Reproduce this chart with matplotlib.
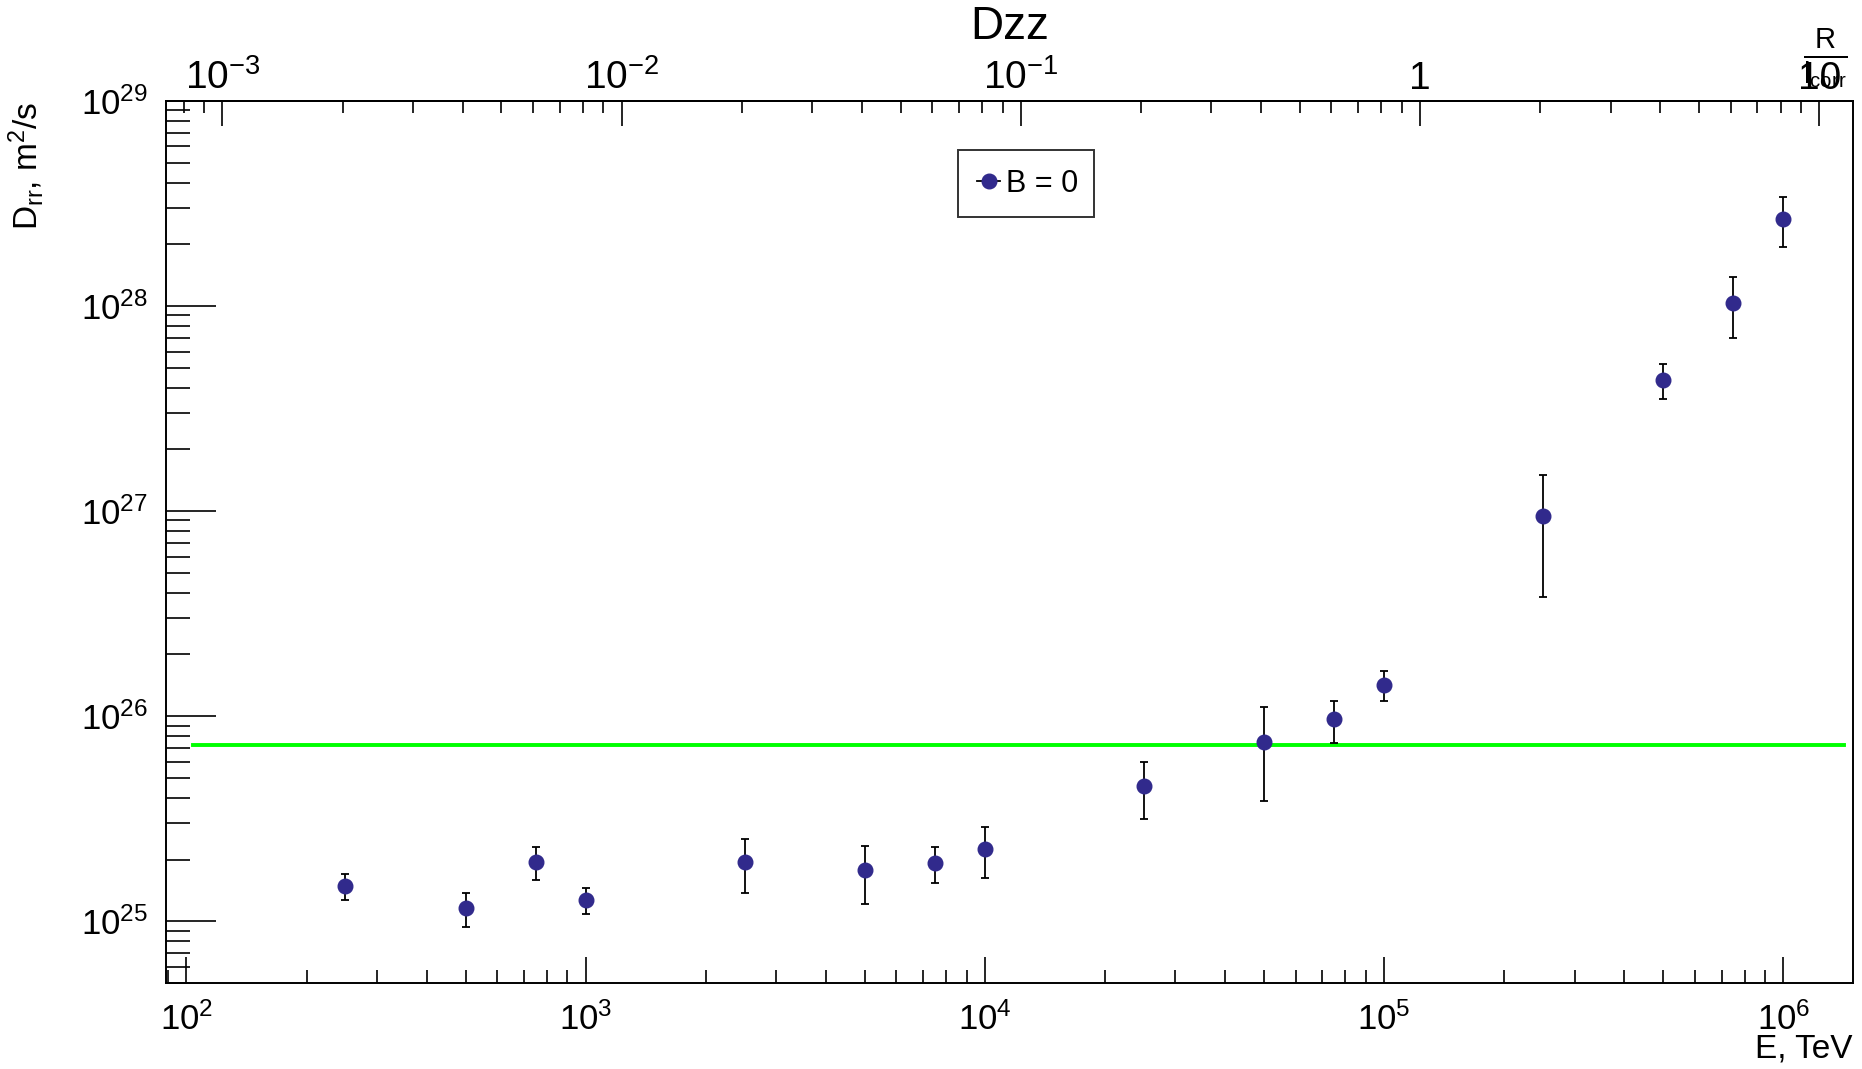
import numpy as np
import matplotlib
matplotlib.use("Agg")
import matplotlib.pyplot as plt
from matplotlib.ticker import FixedLocator, NullFormatter, LogLocator
from matplotlib.lines import Line2D

plt.rcParams['font.family'] = ['Liberation Sans', 'DejaVu Sans']
plt.rcParams['mathtext.fontset'] = 'custom'
plt.rcParams['mathtext.rm'] = 'Liberation Sans'
plt.rcParams['mathtext.it'] = 'Liberation Sans:italic'
plt.rcParams['mathtext.bf'] = 'Liberation Sans:bold'

# ---- data ----
energy_tev = [250, 500, 750, 1000, 2500, 5000, 7500, 1e4, 2.5e4, 5e4, 7.5e4,
              1e5, 2.5e5, 5e5, 7.5e5, 1e6]
d_rr = [1.49e25, 1.16e25, 1.95e25, 1.27e25, 1.95e25, 1.77e25, 1.92e25, 2.25e25,
        4.57e25, 7.48e25, 9.64e25, 1.42e26, 9.42e26, 4.37e27, 1.04e28, 2.67e28]
d_rr_err = [0.22e25, 0.22e25, 0.36e25, 0.19e25, 0.58e25, 0.55e25, 0.39e25, 0.63e25,
            1.43e25, 3.6e25, 2.2e25, 0.24e26, 5.6e26, 0.83e27, 3.4e27, 0.73e28]
green_level = 7.2e25
green_span = [104, 1.42e6]
energy_per_r = 1.23e5  # E (TeV) corresponding to R/l_corr = 1

legend_label = "B = 0"
title = "Dzz"
x_label = "E, TeV"
y_label = r"D$_{\rm rr}$, m$^{2}$/s"
top_label = r"$\frac{\mathrm{R}}{\mathrm{l_{corr}}}$"
bottom_ticks = [1e2, 1e3, 1e4, 1e5, 1e6]
bottom_ticklabels = [r"$10^{2}$", r"$10^{3}$", r"$10^{4}$", r"$10^{5}$", r"$10^{6}$"]
left_ticks = [1e25, 1e26, 1e27, 1e28, 1e29]
left_ticklabels = [r"$10^{25}$", r"$10^{26}$", r"$10^{27}$", r"$10^{28}$", r"$10^{29}$"]
top_ticks = [1e-3, 1e-2, 1e-1, 1, 10]
top_ticklabels = [r"$10^{-3}$", r"$10^{-2}$", r"$10^{-1}$", "1", "10"]

marker_color = "#312a8c"

fig = plt.figure(figsize=(18.62, 10.69), dpi=100)
ax = fig.add_axes([0.0893, 0.0804, 0.9949 - 0.0893, 0.9056 - 0.0804])
ax.set_xscale('log')
ax.set_yscale('log')
ax.set_xlim(89, 1.49e6)
ax.set_ylim(5.0e24, 1e29)

ax.plot(green_span, [green_level, green_level], color='#00ff00', lw=2.8, zorder=2)
ax.errorbar(energy_tev, d_rr, yerr=d_rr_err, fmt='o', color=marker_color,
            ms=10.5, mec=marker_color, ecolor='black', elinewidth=1.3,
            capsize=3.2, capthick=1.3, zorder=3)

for s in ax.spines.values():
    s.set_linewidth(1.4)

# bottom axis
ax.xaxis.set_major_locator(FixedLocator(bottom_ticks))
ax.set_xticklabels(bottom_ticklabels)
ax.xaxis.set_minor_locator(LogLocator(base=10, subs=np.arange(2, 10), numticks=20))
ax.xaxis.set_minor_formatter(NullFormatter())
ax.tick_params(axis='x', which='major', direction='in', length=18.7, width=1.2,
               labelsize=25, pad=14, top=False, bottom=True)
ax.tick_params(axis='x', which='minor', direction='in', length=9.4, width=1.2,
               top=False, bottom=True)

# left axis
ax.yaxis.set_major_locator(FixedLocator(left_ticks))
ax.set_yticklabels(left_ticklabels)
ax.yaxis.set_minor_locator(LogLocator(base=10, subs=np.arange(2, 10), numticks=20))
ax.yaxis.set_minor_formatter(NullFormatter())
ax.tick_params(axis='y', which='major', direction='in', length=36, width=1.2,
               labelsize=25, pad=13, right=False, left=True)
ax.tick_params(axis='y', which='minor', direction='in', length=17, width=1.2,
               right=False, left=True)

# top axis (R / l_corr)
top = ax.secondary_xaxis('top', functions=(lambda e: np.asarray(e) / energy_per_r,
                                           lambda r: np.asarray(r) * energy_per_r))
top.xaxis.set_major_locator(FixedLocator(top_ticks))
top.set_xticklabels(top_ticklabels)
top.xaxis.set_minor_locator(LogLocator(base=10, subs=np.arange(2, 10), numticks=20))
top.xaxis.set_minor_formatter(NullFormatter())
top.tick_params(axis='x', which='major', direction='in', length=18, width=1.2,
                labelsize=28, pad=3)
top.tick_params(axis='x', which='minor', direction='in', length=8.6, width=1.2)
top.spines['top'].set_linewidth(1.4)

# labels
fig.text(0.5425, 0.975, title, fontsize=33, ha='center', va='center')
fig.text(0.9951, 0.019, x_label, fontsize=24, ha='right', va='center')
fig.text(0.014, 0.905, y_label, fontsize=24, rotation=90, ha='center', va='top')
fig.text(0.9805, 0.946, top_label, fontsize=30, ha='center', va='center')

handle = Line2D([], [], color='black', lw=1.3, marker='o', ms=10.5,
                mfc=marker_color, mec=marker_color)
leg = ax.legend([handle], [legend_label], loc='upper left',
                bbox_to_anchor=(0.4697, 0.9448, 0.0803, 0.0), mode='expand',
                fontsize=22, frameon=True, fancybox=False, edgecolor='black',
                handlelength=0.75, handletextpad=0.2,
                borderpad=0.62, borderaxespad=0)
leg.get_frame().set_linewidth(1.4)

fig.savefig("out.png", dpi=100)
